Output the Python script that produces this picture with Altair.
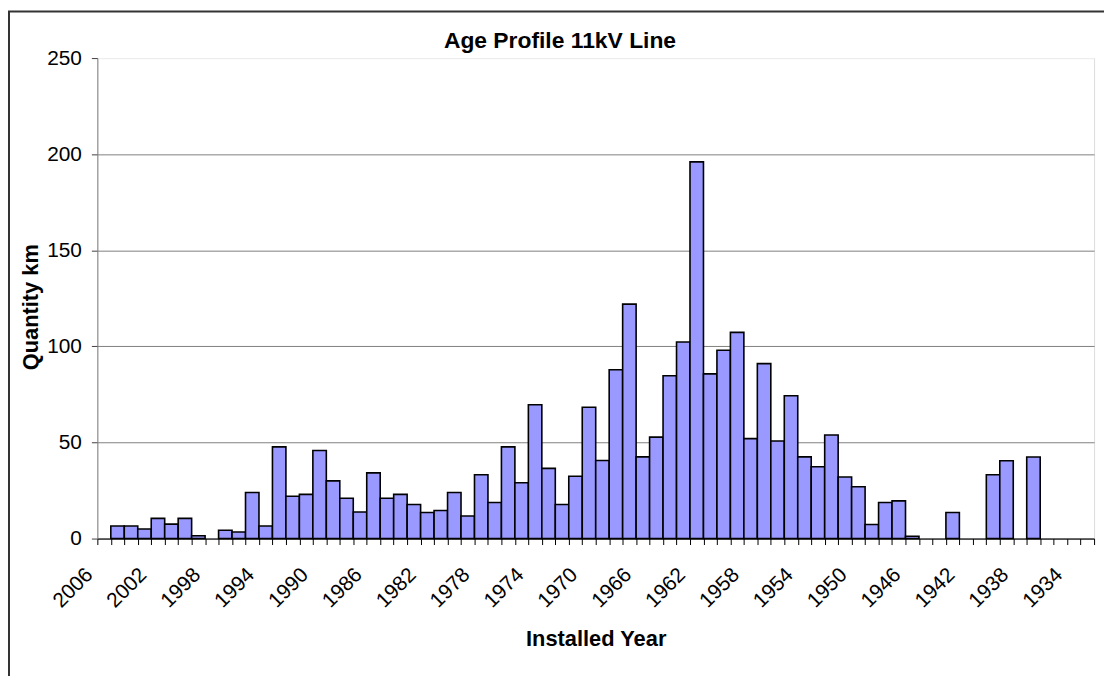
import altair as alt
import pandas as pd

years = list(range(2006, 1932, -1))  # 2006 .. 1933
km = [
    0, 6.5, 6.5, 5.0, 10.5, 7.5, 10.5, 1.5, 0, 4.3,      # 2006-1997
    3.4, 24.0, 6.5, 47.7, 22.0, 23.0, 45.8, 30.0, 21.0, 13.8,  # 1996-1987
    34.2, 21.0, 23.0, 17.7, 13.6, 14.6, 24.0, 11.7, 33.2, 18.8,  # 1986-1977
    47.7, 29.0, 69.6, 36.5, 17.7, 32.4, 68.3, 40.6, 87.8, 122.0,  # 1976-1967
    42.5, 52.8, 84.7, 102.3, 196.0, 85.7, 98.0, 107.3, 52.0, 91.0,  # 1966-1957
    50.8, 74.3, 42.5, 37.4, 53.9, 32.0, 27.0, 7.3, 18.8, 19.6,  # 1956-1947
    1.2, 0, 0, 13.6, 0, 0, 33.2, 40.5, 0, 42.4,  # 1946-1937
    0, 0, 0, 0,  # 1936-1933
]
y_ticks = [0, 50, 100, 150, 200, 250]
title_text = "Age Profile 11kV Line"

df = pd.DataFrame({"year": years, "km": km})

FONT = "Liberation Sans"
W, H = 1004, 484

bars = alt.Chart(df).transform_filter("datum.km > 0").mark_bar(
    color="#9999FF", stroke="#000000", strokeWidth=1.6
).encode(
    x=alt.X(
        "year:O",
        sort=years,
        scale=alt.Scale(domain=years, paddingInner=0, paddingOuter=0),
        axis=alt.Axis(
            title="Installed Year",
            titleFont=FONT, titleFontSize=22, titleFontWeight="bold", titleColor="#000000",
            titleBaseline="alphabetic", titleY=108, titleX=W / 2,
            labelExpr="(2006 - datum.value) % 4 == 0 ? datum.label : ''",
            labelAngle=-45, labelAlign="right", labelBaseline="middle",
            labelFont=FONT, labelFontSize=21, labelColor="#000000",
            labelPadding=27, labelOffset=-15, labelOverlap=False,
            tickBand="extent", tickSize=6, tickColor="#000000", tickWidth=1,
            domainColor="#000000", domainWidth=1, grid=False,
        ),
    ),
    y=alt.Y(
        "km:Q",
        scale=alt.Scale(domain=[0, 250], nice=False),
        axis=alt.Axis(
            title="Quantity km",
            titleFont=FONT, titleFontSize=22, titleFontWeight="bold", titleColor="#000000",
            titleBaseline="alphabetic", titleX=-60.5, titleY=250.5, titleAngle=-90,
            values=y_ticks, labelFont=FONT, labelFontSize=21, labelColor="#000000",
            labelPadding=10, tickSize=6, tickColor="#404040", tickWidth=1,
            domainColor="#808080", domainWidth=1,
            grid=True,
            gridColor={"condition": {"test": "datum.value === 250", "value": "#eeeeee"}, "value": "#808080"},
            gridWidth=1,
        ),
    ),
)

frame = alt.Chart(pd.DataFrame({"a": [0]})).mark_rect(
    filled=False, stroke="#333333", strokeWidth=2
).encode(
    x=alt.value(-89), x2=alt.value(W + 40), y=alt.value(-47), y2=alt.value(H + 160)
)

title = alt.Chart(pd.DataFrame({"t": [title_text]})).mark_text(
    font=FONT, fontSize=23, fontWeight="bold", color="#000000",
    align="center", baseline="alphabetic",
).encode(text="t:N", x=alt.value(466), y=alt.value(-10))

chart = alt.layer(bars, frame, title).properties(
    width=W, height=H,
    autosize=alt.AutoSizeParams(type="none"),
    padding={"left": 90, "top": 48, "right": 10, "bottom": 136},
).configure_view(strokeWidth=0).configure(background="#ffffff")

chart.save("out.html", embed_options={"renderer": "svg", "actions": False})
